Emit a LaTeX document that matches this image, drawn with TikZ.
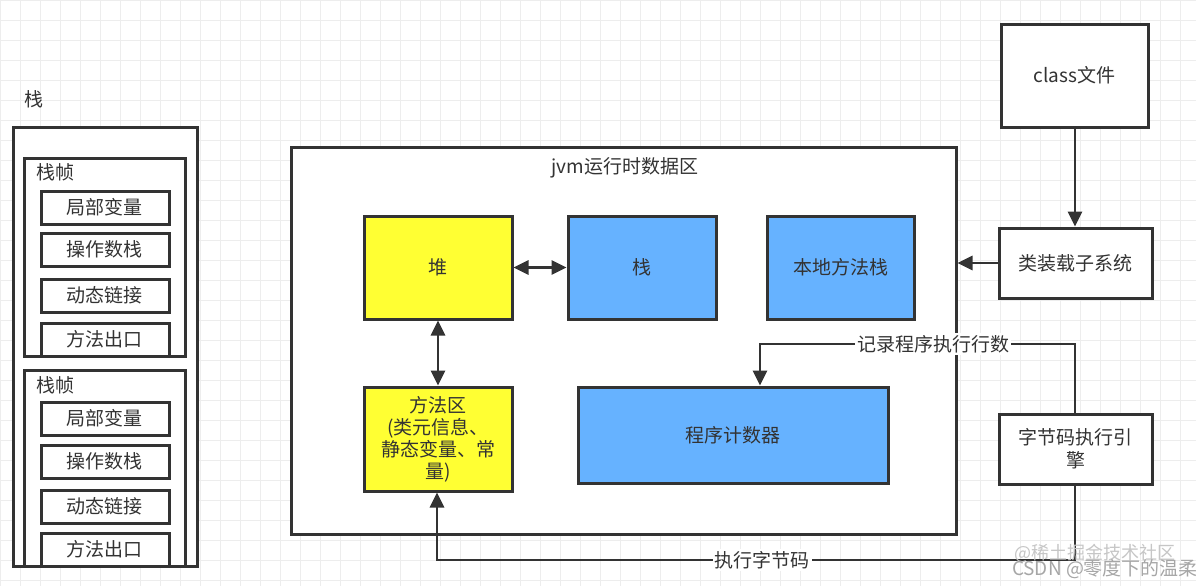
\documentclass[tikz,border=0pt]{standalone}
\usepackage{fontspec}
\setmainfont{Noto Sans CJK SC}
\usetikzlibrary{arrows.meta}
\definecolor{lineC}{HTML}{333333}
\definecolor{txtC}{HTML}{333333}
\definecolor{yel}{HTML}{FFFF33}
\definecolor{blu}{HTML}{66B2FF}
\definecolor{gridC}{HTML}{EDEDED}
\tikzset{
  box/.style={draw=lineC, line width=1.5pt, fill=white, inner sep=0pt, text=txtC, font=\fontsize{9.5}{11.5}\selectfont},
  ybox/.style={box, fill=yel},
  bbox/.style={box, fill=blu},
  arr/.style={draw=lineC, line width=1.4pt, -{Triangle[length=7.5pt,width=7pt]}},
  darr/.style={draw=lineC, line width=1.4pt, {Triangle[length=7.5pt,width=7pt]}-{Triangle[length=7.5pt,width=7pt]}},
  lbl/.style={fill=white, inner sep=1pt, text=txtC, font=\fontsize{9.5}{11.5}\selectfont},
  plain/.style={text=txtC, inner sep=0pt, font=\fontsize{9.5}{11.5}\selectfont},
}
\begin{document}
\begin{tikzpicture}[x=0.5pt,y=-0.5pt]
\useasboundingbox (0,0) rectangle (1196,586);
\fill[white] (0,0) rectangle (1196,586);
\draw[gridC, line width=0.5pt] (0,0) grid[step=10pt] (1196,586);

% stack column
\node[plain] (stklbl) at (34,99) {栈};
\node[box, minimum width=92pt, minimum height=219.5pt] (outer) at (105,346.5) {};
\node[box, minimum width=80.5pt, minimum height=99pt] (f1) at (104.5,257) {};
\node[plain] (f1l) at (56,172) {栈帧};
\node[box, minimum width=64pt, minimum height=16.5pt] (a1) at (105,207.5) {局部变量};
\node[box, minimum width=64pt, minimum height=16.5pt] (b1) at (105,249.5) {操作数栈};
\node[box, minimum width=64pt, minimum height=16.5pt] (c1) at (105,295.5) {动态链接};
\node[box, minimum width=64pt, minimum height=16.5pt] (d1) at (105,339.5) {方法出口};
\node[box, minimum width=80.5pt, minimum height=98pt] (f2) at (104.5,468) {};
\node[plain] (f2l) at (56,385) {栈帧};
\node[box, minimum width=64pt, minimum height=16.5pt] (a2) at (105,418.5) {局部变量};
\node[box, minimum width=64pt, minimum height=16.5pt] (b2) at (105,461.5) {操作数栈};
\node[box, minimum width=64pt, minimum height=16.5pt] (c2) at (105,506.5) {动态链接};
\node[box, minimum width=64pt, minimum height=16.5pt] (d2) at (105,549.5) {方法出口};

% jvm area
\node[box, minimum width=332.5pt, minimum height=193.5pt] (jvm) at (623.5,340.5) {};
\node[plain] (jvmt) at (625,168) {jvm运行时数据区};
\node[ybox, minimum width=74pt, minimum height=51.5pt] (heap) at (438,267.5) {堆};
\node[bbox, minimum width=74pt, minimum height=51.5pt] (stk) at (642,267.5) {栈};
\node[bbox, minimum width=73.5pt, minimum height=51.5pt] (native) at (840.5,267.5) {本地方法栈};
\node[ybox, minimum width=74pt, minimum height=52pt, align=center, font=\fontsize{9.5}{11}\selectfont] (method) at (438,439) {方法区\\(类元信息、\\静态变量、常\\量)};
\node[bbox, minimum width=155pt, minimum height=48pt] (pc) at (733,435) {程序计数器};

% right column
\node[box, minimum width=73.5pt, minimum height=51.5pt] (cls) at (1074.5,75.5) {class文件};
\node[box, minimum width=76.5pt, minimum height=35pt] (loader) at (1075.5,263) {类装载子系统};
\node[box, minimum width=76.5pt, minimum height=35pt, align=center, text width=62pt] (engine) at (1075.5,449) {字节码执行引\\擎};

% connectors
\draw[darr] (heap.east) -- (stk.west);
\draw[darr] (heap.south) -- (method.north);
\draw[arr] (cls.south -| 1075,0) -- (loader.north -| 1075,0);
\draw[arr] (loader.west) -- (jvm.east |- loader.west);
\coordinate (r1) at (1075,344);
\coordinate (r2) at (760,344);
\draw[arr] (engine.north -| r1) -- (r1) -- node[lbl, pos=0.45] (lrec) {记录程序执行行数} (r2) -- (r2 |- pc.north);
\coordinate (e1) at (1075,560);
\coordinate (e2) at (437,560);
\draw[arr] (engine.south -| e1) -- (e1) -- node[lbl, pos=0.49] (lexe) {执行字节码} (e2) -- (e2 |- method.south);

% watermark
\node[text=gray!45, inner sep=0pt, font=\fontsize{9}{10}\selectfont] (wm1) at (1095,553) {@稀土掘金技术社区};
\node[text=gray!70, inner sep=0pt, font=\fontsize{9.5}{10}\selectfont] (wm2) at (1105,569) {CSDN @零度下的温柔};
\end{tikzpicture}
\end{document}
